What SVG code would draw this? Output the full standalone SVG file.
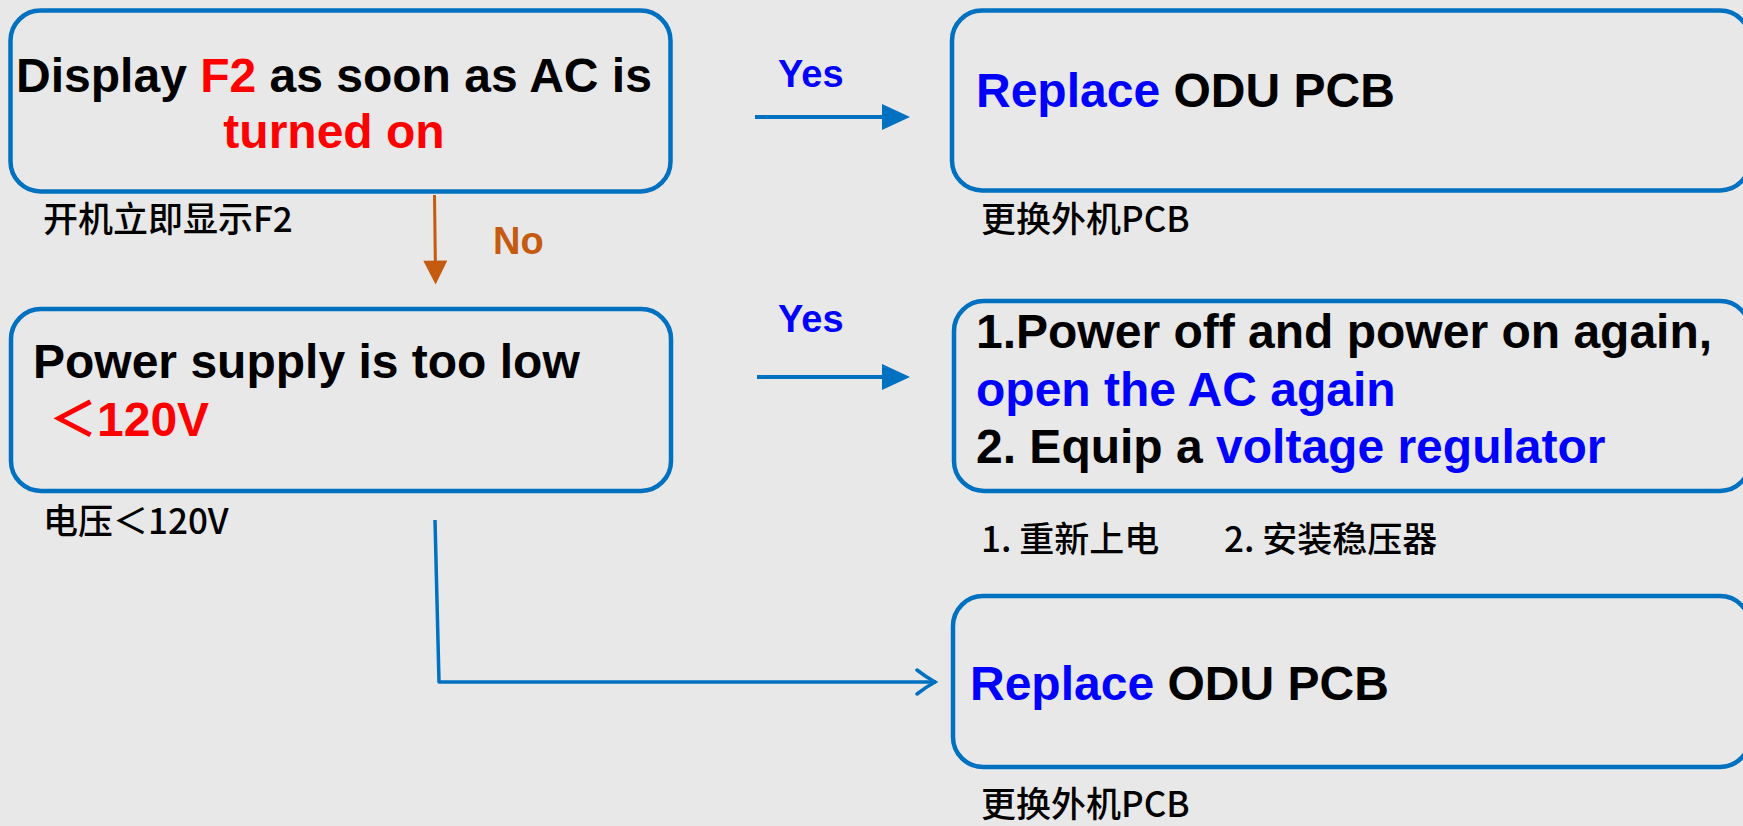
<svg xmlns="http://www.w3.org/2000/svg" width="1743" height="826" viewBox="0 0 1743 826">
<style>
.box{fill:none;stroke:#0070C0;stroke-width:4.5}
.en{font-family:"Liberation Sans",Arial,"Noto Sans CJK SC",sans-serif;font-weight:bold;font-size:48px;fill:#000}
.cn{font-family:"Noto Sans CJK SC","Noto Sans CJK TC",sans-serif;font-size:35px;font-weight:500;fill:#000}
.red{fill:#FF0000}
.blue{fill:#0000FF}
.lbl{font-family:"Liberation Sans",Arial,sans-serif;font-weight:bold;font-size:38px}
.c-blue{fill:none;stroke:#0070C0;stroke-width:4}
.c-brown{fill:none;stroke:#C55A11;stroke-width:3}
.c-open{fill:none;stroke:#0070C0;stroke-width:3.5;stroke-linejoin:round}
</style>
<defs>
<marker id="mBlue" viewBox="0 0 28 26" refX="18" refY="13" markerWidth="28" markerHeight="26" markerUnits="userSpaceOnUse" orient="auto">
<path d="M0,0 L28,13 L0,26 Z" fill="#0070C0"/>
</marker>
<marker id="mBrown" viewBox="0 0 25 26" refX="15" refY="12.5" markerWidth="25" markerHeight="25" markerUnits="userSpaceOnUse" orient="auto">
<path d="M0,0 L25,12.5 L0,25 Z" fill="#C55A11"/>
</marker>
<marker id="mOpen" viewBox="0 0 24 30" refX="22" refY="15" markerWidth="24" markerHeight="30" markerUnits="userSpaceOnUse" orient="auto">
<path d="M3,3 Q12,10 21,15 Q12,20 3,27" fill="none" stroke="#0070C0" stroke-width="3.5" stroke-linecap="round"/>
</marker>
</defs>
<rect width="1743" height="826" fill="#E8E8E8"/>

<g id="connectors">
<line class="c-blue" x1="755" y1="117" x2="900" y2="117" marker-end="url(#mBlue)"/>
<line class="c-blue" x1="757" y1="377" x2="900" y2="377" marker-end="url(#mBlue)"/>
<line class="c-brown" x1="434.5" y1="195" x2="435.5" y2="275" marker-end="url(#mBrown)"/>
<polyline class="c-open" points="435,520 439,682 936,682" marker-end="url(#mOpen)"/>
<text class="lbl blue" x="778" y="87">Yes</text>
<text class="lbl blue" x="778" y="332">Yes</text>
<text class="lbl" x="493" y="254" fill="#C55A11" font-size="37">No</text>
</g>

<g id="node-f2">
<rect class="box" x="10.5" y="10.5" width="660" height="181" rx="30"/>
<text class="en" x="334" y="92" text-anchor="middle">Display <tspan class="red">F2</tspan> as soon as AC is</text>
<text class="en red" x="334" y="148" text-anchor="middle">turned on</text>
<text class="cn" x="43" y="232">开机立即显示F2</text>
</g>

<g id="node-replace1">
<rect class="box" x="952" y="10.5" width="798" height="180" rx="30"/>
<text class="en" x="976" y="107"><tspan class="blue">Replace</tspan> ODU PCB</text>
<text class="cn" x="981" y="232">更换外机PCB</text>
</g>

<g id="node-power">
<rect class="box" x="11" y="309" width="660" height="182" rx="30"/>
<text class="en" x="33" y="378">Power supply is too low</text>
<text class="en red" x="49" y="436">＜120V</text>
<text class="cn" x="43" y="534">电压＜120V</text>
</g>

<g id="node-reboot">
<rect class="box" x="954" y="301" width="796" height="190" rx="30"/>
<text class="en" x="976" y="348">1.Power off and power on again,</text>
<text class="en blue" x="976" y="406">open the AC again</text>
<text class="en" x="976" y="463">2. Equip a <tspan class="blue">voltage regulator</tspan></text>
<text class="cn" y="552"><tspan x="981">1. 重新上电</tspan><tspan x="1224">2. 安装稳压器</tspan></text>
</g>

<g id="node-replace2">
<rect class="box" x="953" y="596" width="797" height="171" rx="30"/>
<text class="en" x="970" y="700"><tspan class="blue">Replace</tspan> ODU PCB</text>
<text class="cn" x="981" y="817">更换外机PCB</text>
</g>
</svg>
